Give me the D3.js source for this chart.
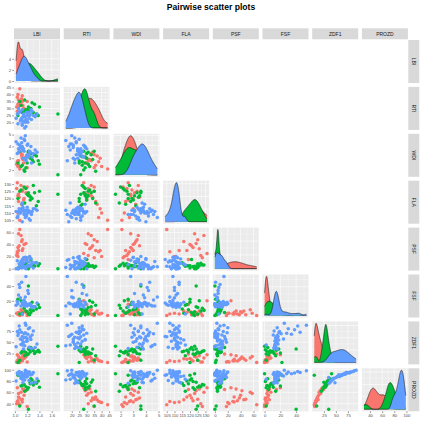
<!DOCTYPE html>
<html>
<head>
<meta charset="utf-8">
<script src="https://cdn.jsdelivr.net/npm/d3@7"></script>
<style>
  body { margin: 0; background: #fff; }
  text { font-family: "Liberation Sans", Arial, sans-serif; }
</style>
</head>
<body>
<svg id="chart" width="423" height="423"></svg>
<script>
// variable names (strip labels)
const varNames = ["LBI", "RTI", "WDI", "FLA", "PSF", "FSF", "ZDF1", "PROZD"];

// group of each observation: 18 red, 20 green, 36 blue
const group = [].concat(
  Array(18).fill("a"),
  Array(20).fill("b"),
  Array(36).fill("c")
);

const lbi = [1.05,1.12,1.03,1.08,1.15,1.04,1.10,1.06,1.18,1.05,1.13,1.07,1.04,1.11,1.06,1.20,1.12,1.14,
  1.70,1.22,1.08,1.25,1.12,1.32,1.18,1.38,1.22,1.15,1.28,1.20,1.35,1.10,1.26,1.30,1.16,1.24,1.40,1.05,
  1.15,1.05,1.22,1.10,1.30,1.12,1.18,1.02,1.25,1.14,1.08,1.33,1.17,1.20,1.06,1.27,1.12,1.36,1.11,1.19,
  1.09,1.24,1.16,1.28,1.13,1.21,1.04,1.18,1.26,1.12,1.15,1.23,1.07,1.20,1.17,1.14];
const rti = [33,35,31,44,30,38,33,36,29,40,32,34,28,37,31,35,39,30,
  26,28,35,30,27,33,29,25,31,28,34,29,26,32,30,27,36,29,31,25,
  24,19,27,22,25,29,17,23,26,21,28,24,20,25,30,22,18,26,23,27,
  21,25,16,28,24,20,26,22,29,19,25,23,27,21,24,26];
const wdi = [2.8,3.3,2.5,2.1,3.0,2.7,3.4,2.4,3.1,2.3,2.9,3.5,2.6,3.2,2.8,2.2,3.0,2.6,
  1.6,3.6,3.6,3.0,2.4,3.3,2.2,2.8,3.5,2.0,2.9,2.6,3.2,2.3,3.4,2.7,1.9,3.1,2.5,2.6,
  3.6,4.2,3.1,4.7,3.4,3.9,2.8,4.4,3.5,3.0,4.1,3.7,4.9,3.3,3.8,2.6,4.0,3.5,4.3,3.2,
  3.9,3.6,4.5,3.1,3.8,4.2,3.4,2.9,4.0,3.7,4.6,3.3,3.6,4.1,3.0,3.8];
const fla = [122,125,127,105,120,107,129,118,124,110,126,121,131,116,123,128,113,119,
  123,124,125,119,116,124,127,118,122,128,120,123,115,126,121,129,117,122,125,120,
  110,108,112,111,113,116,109,111,105,112,110,113,107,114,111,109,104,112,113,108,
  110,111,112,111,114,110,107,112,110,117,109,106,113,111,109,112];
const psf = [35,48,22,65,40,28,55,30,42,20,33,38,25,45,58,18,30,15,
  0,0,2,5,7,4,9,5,3,6,5,4,10,5,15,6,4,3,8,1,
  2,0,5,12,1,8,14,0,4,18,6,10,3,16,0,7,15,9,1,12,
  4,20,2,11,9,5,13,0,17,6,3,11,8,4,19,10];
const fsf = [2,1,3,0,5,2,8,4,4,3,6,1,20,6,3,0,2,15,
  0,40,2,8,3,12,6,15,2,10,18,5,9,20,4,7,14,1,11,22,
  14,16,30,13,12,18,53,14,15,15,38,12,25,15,28,12,17,17,45,14,
  24,16,13,11,16,34,19,16,15,2,21,14,42,13,18,16];
const zdf1 = [8,10,6,5,14,9,15,12,17,7,20,11,22,13,18,6,8,24,
  41,35,10,28,30,25,27,32,24,30,35,22,29,26,38,31,20,33,28,5,
  60,65,80,45,75,55,88,40,62,50,78,38,92,58,70,36,63,46,72,52,
  57,82,42,66,48,68,74,61,56,44,69,39,86,53,71,35];
const prozd = [45,48,40,38,55,44,60,52,63,42,66,50,68,47,58,35,43,65,
  93,30,36,75,72,78,70,80,68,74,82,65,76,71,84,73,62,79,69,90,
  90,92,96,85,95,89,98,80,91,86,94,78,99,88,93,76,90,84,95,87,
  89,96,82,92,77,93,94,90,91,83,92,81,97,88,95,86];

// tick labels per variable
const tickLBI = [1.0, 1.2, 1.4, 1.6];
const tickRTI = [20, 25, 30, 35, 40, 45];
const tickWDI = [2, 3, 4, 5];
const tickFLA = [105, 110, 115, 120, 125, 130];
const tickPSF = [0, 20, 40, 60];
const tickFSF = [0, 20, 40];
const tickZDF1 = [25, 50, 75];
const tickPROZD = [40, 60, 80, 100];
const tickDensity = [0, 2, 4];

const columns = [lbi, rti, wdi, fla, psf, fsf, zdf1, prozd];
const ticks = [tickLBI, tickRTI, tickWDI, tickFLA, tickPSF, tickFSF, tickZDF1, tickPROZD];
const groups = ["a", "b", "c"];
const color = d3.scaleOrdinal().domain(groups).range(["#F8766D", "#00BA38", "#619CFF"]);

// layout
const x0 = 14, colPitch = 49.7, pw = 46;
const y0 = 40, rowPitch = 46.9, ph = 43;
const nv = varNames.length;

const svg = d3.select("#chart");

svg.append("text")
  .attr("x", 211).attr("y", 9.6)
  .attr("text-anchor", "middle")
  .attr("font-weight", "bold")
  .attr("font-size", 8.6)
  .attr("fill", "#000")
  .text("Pairwise scatter plots");

// ggplot-like continuous scales with 5% expansion
const scales = columns.map(v => {
  const [a, b] = d3.extent(v);
  const pad = (b - a) * 0.05;
  return d3.scaleLinear().domain([a - pad, b + pad]);
});

function minorTicks(major, domain) {
  const out = [];
  const step = major[1] - major[0];
  const all = [major[0] - step].concat(major, [major[major.length - 1] + step]);
  for (let k = 0; k < all.length - 1; k++) {
    const m = (all[k] + all[k + 1]) / 2;
    if (m >= domain[0] && m <= domain[1]) out.push(m);
  }
  return out;
}

function drawBackground(g, x, y, xt, yt) {
  g.append("rect").attr("width", pw).attr("height", ph).attr("fill", "#EBEBEB");
  const xd = x.domain(), yd = y.domain();
  const xMaj = xt.filter(t => t >= xd[0] && t <= xd[1]);
  const yMaj = yt.filter(t => t >= yd[0] && t <= yd[1]);
  g.selectAll(".vmin").data(minorTicks(xt, xd)).enter().append("line")
    .attr("x1", d => x(d)).attr("x2", d => x(d)).attr("y1", 0).attr("y2", ph)
    .attr("stroke", "#fff").attr("stroke-width", 0.3);
  g.selectAll(".hmin").data(minorTicks(yt, yd)).enter().append("line")
    .attr("y1", d => y(d)).attr("y2", d => y(d)).attr("x1", 0).attr("x2", pw)
    .attr("stroke", "#fff").attr("stroke-width", 0.3);
  g.selectAll(".vmaj").data(xMaj).enter().append("line")
    .attr("x1", d => x(d)).attr("x2", d => x(d)).attr("y1", 0).attr("y2", ph)
    .attr("stroke", "#fff").attr("stroke-width", 0.6);
  g.selectAll(".hmaj").data(yMaj).enter().append("line")
    .attr("y1", d => y(d)).attr("y2", d => y(d)).attr("x1", 0).attr("x2", pw)
    .attr("stroke", "#fff").attr("stroke-width", 0.6);
}

function nrd0(v) {
  const s = d3.sort(v);
  const sd = d3.deviation(s);
  const iqr = (d3.quantile(s, 0.75) - d3.quantile(s, 0.25)) / 1.34;
  const lo = Math.min(sd, iqr) || sd;
  return 0.9 * lo * Math.pow(v.length, -0.2);
}

function kde(values, xs) {
  const bw = nrd0(values);
  return xs.map(x => [x, d3.mean(values, v => Math.exp(-0.5 * ((x - v) / bw) ** 2) / Math.sqrt(2 * Math.PI)) / bw]);
}

const densityY = [];

for (let i = 0; i < nv; i++) {
  for (let j = 0; j <= i; j++) {
    const g = svg.append("g")
      .attr("transform", `translate(${x0 + j * colPitch},${y0 + i * rowPitch})`);
    const x = scales[j].copy().range([0, pw]);

    if (i === j) {
      const vals = columns[i];
      const [a, b] = d3.extent(vals);
      const xs = d3.range(512).map(k => a + (b - a) * k / 511);
      const dens = groups.map(gr => kde(vals.filter((v, k) => group[k] === gr), xs));
      const m = d3.max(dens, d => d3.max(d, p => p[1]));
      const y = d3.scaleLinear().domain([-0.05 * m, 1.05 * m]).range([ph, 0]);
      densityY[i] = y;
      const yt = i === 0 ? tickDensity : y.ticks(4);
      drawBackground(g, x, y, ticks[j], yt);
      const area = d3.area().x(p => x(p[0])).y0(y(0)).y1(p => y(p[1]));
      const line = d3.line().x(p => x(p[0])).y(p => y(p[1]));
      dens.forEach((d, k) => {
        g.append("path").attr("d", area(d)).attr("fill", color(groups[k]));
        g.append("path").attr("d", line(d)).attr("fill", "none")
          .attr("stroke", "#1a1a1a").attr("stroke-width", 0.6);
      });
    } else {
      const y = scales[i].copy().range([ph, 0]);
      drawBackground(g, x, y, ticks[j], ticks[i]);
      g.selectAll("circle").data(d3.range(columns[0].length)).enter().append("circle")
        .attr("cx", k => x(columns[j][k]))
        .attr("cy", k => y(columns[i][k]))
        .attr("r", 1.75)
        .attr("fill", k => color(group[k]));
    }
  }
}

// top strips
varNames.forEach((name, j) => {
  const g = svg.append("g").attr("transform", `translate(${x0 + j * colPitch},28.3)`);
  g.append("rect").attr("width", pw).attr("height", 11).attr("fill", "#D9D9D9");
  g.append("text").attr("x", pw / 2).attr("y", 7.3).attr("text-anchor", "middle")
    .attr("font-size", 5).attr("fill", "#1A1A1A").text(name);
});

// right strips
varNames.forEach((name, i) => {
  const g = svg.append("g").attr("transform", `translate(408.3,${y0 + i * rowPitch})`);
  g.append("rect").attr("width", 11).attr("height", ph).attr("fill", "#D9D9D9");
  g.append("text").attr("transform", `translate(3.7,${ph / 2}) rotate(90)`)
    .attr("text-anchor", "middle")
    .attr("font-size", 5).attr("fill", "#1A1A1A").text(name);
});

function styleAxis(a) {
  a.select(".domain").remove();
  a.selectAll(".tick line").attr("stroke", "#333").attr("stroke-width", 0.5);
  a.selectAll(".tick text").attr("fill", "#4D4D4D").attr("font-size", 4.2)
    .attr("font-family", "Liberation Sans, Arial, sans-serif");
}

// left axes
for (let i = 0; i < nv; i++) {
  const y = i === 0 ? densityY[0] : scales[i].copy().range([ph, 0]);
  const tv = i === 0 ? tickDensity : ticks[i];
  const a = svg.append("g")
    .attr("transform", `translate(${x0},${y0 + i * rowPitch})`)
    .call(d3.axisLeft(y).tickValues(tv).tickSize(1.8).tickPadding(1).tickFormat(d3.format("")));
  styleAxis(a);
}

// bottom axes
for (let j = 0; j < nv; j++) {
  const x = scales[j].copy().range([0, pw]);
  const fmt = j === 0 ? d3.format(".1f") : d3.format("");
  const a = svg.append("g")
    .attr("transform", `translate(${x0 + j * colPitch},${y0 + 7 * rowPitch + ph})`)
    .call(d3.axisBottom(x).tickValues(ticks[j]).tickSize(1.8).tickPadding(1).tickFormat(fmt));
  styleAxis(a);
}
</script>
</body>
</html>
